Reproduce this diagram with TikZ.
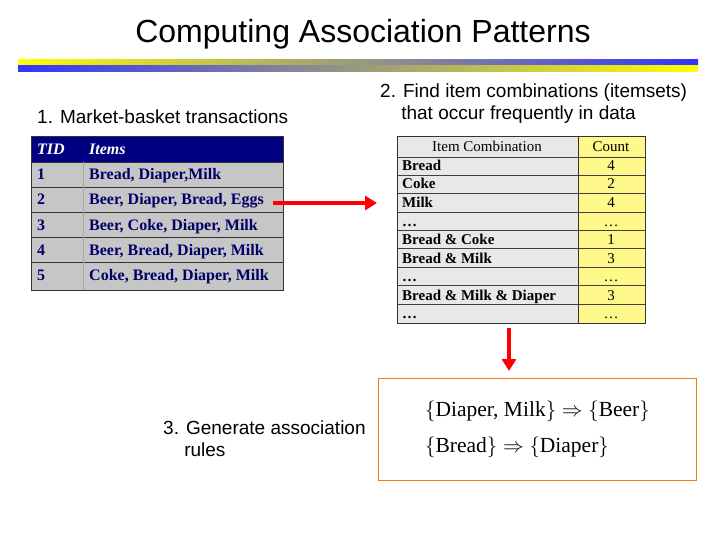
\documentclass[tikz,border=0pt]{standalone}
\usetikzlibrary{arrows.meta}
\usepackage{fontspec}
\setmainfont{Liberation Serif}
\newfontfamily\arial{Liberation Sans}
\usepackage{amsmath,amssymb}
\begin{document}
\begin{tikzpicture}[x=1pt,y=-1pt,
  lbl/.style={font=\arial\fontsize{19}{22}\selectfont,align=left,anchor=west,inner sep=0},
  tA/.style={font=\bfseries\fontsize{16}{18}\selectfont,text=blue!40!black,anchor=base west,inner sep=0},
  tB/.style={font=\bfseries\fontsize{15}{17}\selectfont,anchor=base west,inner sep=0},
  tC/.style={font=\fontsize{15}{17}\selectfont,anchor=base,inner sep=0},
  redarrow/.style={draw=red,line width=4pt,-{Triangle[length=12pt,width=14pt]}}]
\useasboundingbox (0,0) rectangle (720,540);
\node[font=\arial\fontsize{32}{36}\selectfont] (title) at (363,34) {Computing Association Patterns};
\shade[left color=yellow,right color=blue!80] (18,60) rectangle (698,66);
\shade[left color=blue!80,right color=yellow] (18,66) rectangle (698,72);
% table 1
\fill[gray!45] (31,137) rectangle (283,290);
\fill[blue!50!black] (31,137) rectangle (283,162);
\foreach \y in {162,187,212,237,262}{\draw[black!80,line width=0.8pt] (31,\y)--(283,\y);}
\draw[gray!70] (83,162)--(83,290);
\draw[black!80,line width=1pt] (31,137) rectangle (283,290);
\node[tA,text=white,font=\bfseries\itshape\fontsize{16}{18}\selectfont] (h1) at (37,155) {TID};
\node[tA,text=white,font=\bfseries\itshape\fontsize{16}{18}\selectfont] (h2) at (89,155) {Items};
\foreach \i/\t [count=\k] in {1/{Bread, Diaper,Milk},2/{Beer, Diaper, Bread, Eggs},3/{Beer, Coke, Diaper, Milk},4/{Beer, Bread, Diaper, Milk},5/{Coke, Bread, Diaper, Milk}}{
  \node[tA] (id\k) at (37,{155+25*\k}) {\i};
  \node[tA] (it\k) at (89,{155+25*\k}) {\t};}
\node[lbl] (l1) at (37,117) {1. Market-basket transactions};
% table 2
\fill[gray!18] (397,137) rectangle (578,323);
\fill[yellow!45] (578,137) rectangle (645,323);
\foreach \y in {157,175,193,212,230,248,267,285,304}{\draw[black!75,line width=0.8pt] (397,\y)--(645,\y);}
\draw[black!80] (578,137)--(578,323);
\draw[black!80,line width=1pt] (397,137) rectangle (645,323);
\node[tC] (c0) at (487,152) {Item Combination};
\node[tC] (n0) at (611,152) {Count};
\foreach \t/\n [count=\k] in {Bread/4,Coke/2,Milk/4,{\dots}/{\dots},{Bread \& Coke}/1,{Bread \& Milk}/3,{\dots}/{\dots},{Bread \& Milk \& Diaper}/3,{\dots}/{\dots}}{
  \node[tB] (c\k) at (402,{152+18.5*\k}) {\t};
  \node[tC] (n\k) at (611,{152+18.5*\k}) {\n};}
\node[lbl] (l2) at (380,104) {2. Find item combinations (itemsets)\\\phantom{2.}\ that occur frequently in data};
% arrows
\coordinate (a1s) at (273,203); \coordinate (a1e) at (377,203);
\draw[redarrow] (a1s)--(a1e);
\coordinate (a2s) at (509,328); \coordinate (a2e) at (509,371);
\draw[redarrow] (a2s)--(a2e);
% rules box
\draw[draw=orange!70!brown,line width=0.8pt] (378,378) rectangle (696,480);
\node[font=\fontsize{21.5}{24}\selectfont,anchor=west,inner sep=0] (r1) at (425,411) {$\{\text{Diaper, Milk}\} \Rightarrow \{\text{Beer}\}$};
\node[font=\fontsize{21.5}{24}\selectfont,anchor=west,inner sep=0] (r2) at (425,447) {$\{\text{Bread}\} \Rightarrow \{\text{Diaper}\}$};
\node[lbl] (l3) at (163,439) {3. Generate association\\\phantom{3.}\ rules};
\end{tikzpicture}
\end{document}
